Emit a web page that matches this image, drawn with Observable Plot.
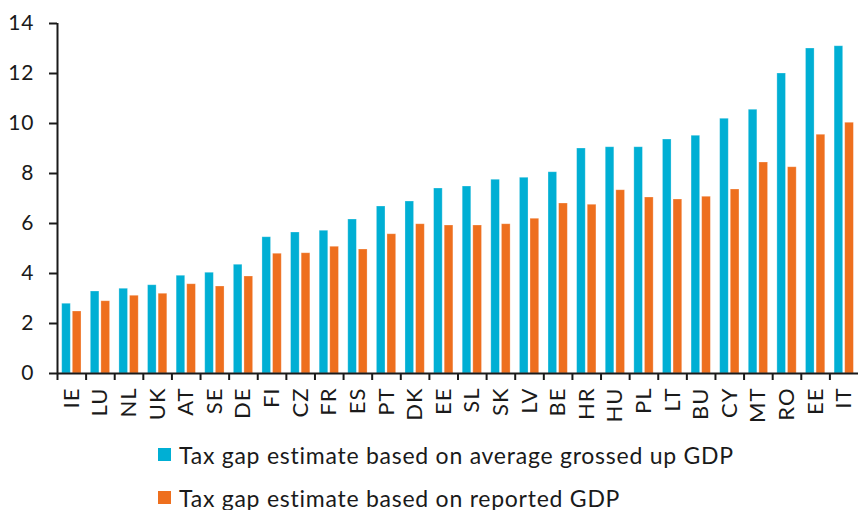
<!DOCTYPE html>
<html>
<head>
<meta charset="utf-8">
<script src="https://cdn.jsdelivr.net/npm/d3@7"></script>
<script src="https://cdn.jsdelivr.net/npm/@observablehq/plot@0.6"></script>
<style>
  body { margin: 0; background: #fff; font-family: Lato, "Noto Sans", sans-serif; }
  #legend { margin-top: 8px; padding-left: 158px; font-size: 23px; letter-spacing: 0.75px; color: #1a1a1a; }
  .item { display: flex; align-items: center; height: 43px; }
  .sw { width: 13px; height: 13px; margin-right: 8px; flex: none; }
</style>
</head>
<body>
<div id="chart"></div>
<div id="legend"></div>
<script>
const countries = ["IE","LU","NL","UK","AT","SE","DE","FI","CZ","FR","ES","PT","DK","EE","SL","SK","LV","BE","HR","HU","PL","LT","BU","CY","MT","RO","EE","IT"];
const grossedUp = [2.79,3.28,3.39,3.53,3.91,4.03,4.35,5.45,5.64,5.71,6.16,6.68,6.88,7.40,7.48,7.75,7.83,8.05,9.00,9.05,9.05,9.36,9.51,10.19,10.55,12.00,13.00,13.09];
const reported = [2.48,2.89,3.11,3.19,3.57,3.48,3.88,4.79,4.81,5.07,4.96,5.57,5.97,5.92,5.92,5.97,6.19,6.80,6.75,7.33,7.04,6.96,7.07,7.36,8.44,8.25,9.55,10.03];
const seriesNames = ["Tax gap estimate based on average grossed up GDP", "Tax gap estimate based on reported GDP"];
const yTicks = [0, 2, 4, 6, 8, 10, 12, 14];
const colors = ["#00afd4", "#ee6f1e"];

const W = 858, ML = 57, MR = 0;
const idx = d3.range(countries.length);
const step = (W - ML - MR) / countries.length;

const chart = Plot.plot({
  width: W,
  height: 425,
  marginLeft: ML,
  marginRight: MR,
  marginTop: 23,
  marginBottom: 52,
  style: { fontFamily: "Lato, 'Noto Sans', sans-serif", color: "#1a1a1a", background: "#fff", letterSpacing: "1px" },
  x: { type: "band", domain: idx, padding: 0, round: false },
  y: { domain: [0, 14] },
  marks: [
    Plot.barY(idx, { x: i => i, y: i => grossedUp[i], fill: colors[0], insetLeft: 4.7, insetRight: 15.3, stroke: "#ffffff", strokeOpacity: 0.35, strokeWidth: 0.8 }),
    Plot.barY(idx, { x: i => i, y: i => reported[i], fill: colors[1], insetLeft: 15.3, insetRight: 4.6, stroke: "#ffffff", strokeOpacity: 0.35, strokeWidth: 0.8 }),
    Plot.axisY({ ticks: yTicks, tickSize: 8, tickPadding: 15, fontSize: 21, tickFormat: d => String(d), label: null, strokeWidth: 2 }),
    Plot.axisX({ tickSize: 7, tickFormat: () => "", dx: -step / 2, label: null, strokeWidth: 2 }),
    Plot.axisX({ tickSize: 0, tickPadding: 14, tickRotate: -90, fontSize: 22, tickFormat: i => countries[i], label: null }),
    Plot.ruleY([0], { strokeWidth: 2 }),
    Plot.ruleX([0], { dx: -step / 2, strokeWidth: 2 })
  ]
});
document.getElementById("chart").appendChild(chart);

const legend = document.getElementById("legend");
seriesNames.forEach((name, k) => {
  const row = document.createElement("div");
  row.className = "item";
  const sw = document.createElement("span");
  sw.className = "sw";
  sw.style.background = colors[k];
  const tx = document.createElement("span");
  tx.textContent = name;
  row.appendChild(sw);
  row.appendChild(tx);
  legend.appendChild(row);
});
</script>
</body>
</html>
